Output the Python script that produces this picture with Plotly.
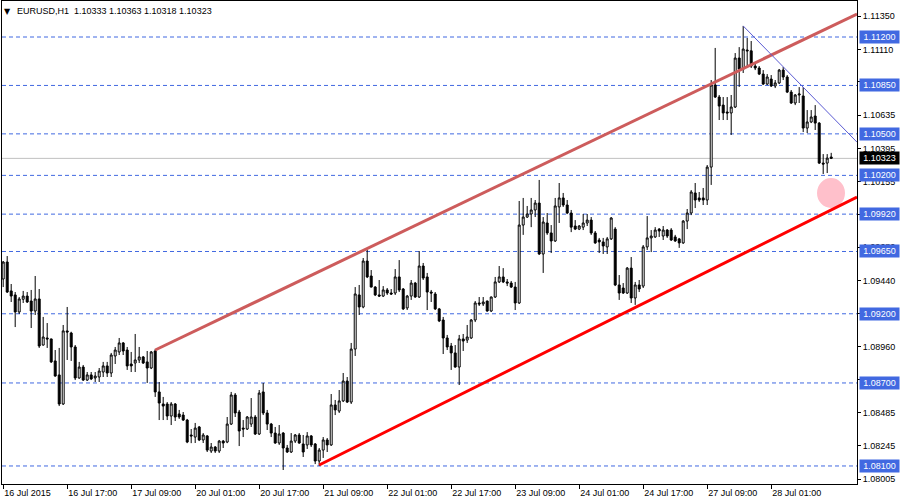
import pandas as pd
import plotly.graph_objects as go

symbol = "EURUSD,H1"

# hourly bars (weekend skipped)
times = [t for t in pd.date_range("2015-07-16 01:00", "2015-07-28 16:00", freq="h") if t.weekday() < 5]
bar_time = [t.strftime("%Y-%m-%d %H:%M") for t in times]

opens = [
    1.09451, 1.09574, 1.09365, 1.09336, 1.09213, 1.09305, 1.09328, 1.09292, 1.09220, 1.09307,
    1.08974, 1.09025, 1.09018, 1.08859, 1.08758, 1.08548, 1.09076, 1.09061, 1.08960, 1.08736,
    1.08815, 1.08721, 1.08758, 1.08736, 1.08743, 1.08779, 1.08823, 1.08772, 1.08895, 1.08924,
    1.08989, 1.08938, 1.08837, 1.08844, 1.08866, 1.08888, 1.08852, 1.08808, 1.08931, 1.08635,
    1.08548, 1.08548, 1.08461, 1.08548, 1.08476, 1.08468, 1.08432, 1.08324, 1.08309, 1.08382,
    1.08288, 1.08317, 1.08208, 1.08237, 1.08208, 1.08280, 1.08273, 1.08403, 1.08613, 1.08490,
    1.08374, 1.08367, 1.08403, 1.08454, 1.08331, 1.08635, 1.08483, 1.08403, 1.08338, 1.08266,
    1.08338, 1.08230, 1.08201, 1.08280, 1.08324, 1.08259, 1.08252, 1.08317, 1.08259, 1.08136,
    1.08215, 1.08288, 1.08252, 1.08541, 1.08497, 1.08570, 1.08714, 1.08562, 1.08945, 1.09336,
    1.09249, 1.09581, 1.09473, 1.09393, 1.09336, 1.09328, 1.09372, 1.09350, 1.09350, 1.09466,
    1.09379, 1.09242, 1.09328, 1.09422, 1.09321, 1.09545, 1.09466, 1.09357, 1.09343, 1.09235,
    1.09155, 1.09025, 1.08967, 1.08917, 1.08815, 1.09018, 1.09010, 1.09025, 1.09155, 1.09278,
    1.09271, 1.09292, 1.09220, 1.09321, 1.09430, 1.09466, 1.09430, 1.09422, 1.09393, 1.09278,
    1.09841, 1.09899, 1.09921, 1.09950, 1.10000, 1.09632, 1.09856, 1.09784, 1.09726, 1.09972,
    1.10037, 1.09986, 1.09928, 1.09834, 1.09812, 1.09826, 1.09856, 1.09877, 1.09784, 1.09733,
    1.09719, 1.09683, 1.09741, 1.09812, 1.09408, 1.09386, 1.09350, 1.09530, 1.09314, 1.09408,
    1.09400, 1.09683, 1.09748, 1.09755, 1.09812, 1.09762, 1.09805, 1.09805, 1.09755, 1.09741,
    1.09712, 1.09870, 1.09928, 1.10073, 1.10037, 1.10037, 1.10022, 1.10260, 1.10853, 1.10766,
    1.10708, 1.10658, 1.10651, 1.10694, 1.11048, 1.10968, 1.11106, 1.11100, 1.10990, 1.10976,
    1.10932, 1.10860, 1.10896, 1.10846, 1.10868, 1.10961, 1.10911, 1.10802, 1.10723, 1.10781,
    1.10774, 1.10542, 1.10586, 1.10629, 1.10578, 1.10289, 1.10289, 1.10333,
]
highs = [
    1.09581, 1.09617, 1.09415, 1.09357, 1.09321, 1.09365, 1.09357, 1.09372, 1.09473, 1.09379,
    1.09177, 1.09133, 1.09020, 1.08938, 1.08953, 1.09119, 1.09249, 1.09070, 1.08974, 1.08852,
    1.08830, 1.08779, 1.08779, 1.08779, 1.08808, 1.08852, 1.08852, 1.08917, 1.08960, 1.09025,
    1.08996, 1.08960, 1.08924, 1.09054, 1.08960, 1.08895, 1.08931, 1.08931, 1.08945, 1.08707,
    1.08599, 1.08562, 1.08562, 1.08555, 1.08505, 1.08490, 1.08440, 1.08367, 1.08411, 1.08389,
    1.08338, 1.08324, 1.08266, 1.08244, 1.08288, 1.08288, 1.08454, 1.08635, 1.08627, 1.08505,
    1.08432, 1.08461, 1.08591, 1.08468, 1.08649, 1.08700, 1.08505, 1.08411, 1.08382, 1.08396,
    1.08345, 1.08252, 1.08338, 1.08331, 1.08338, 1.08324, 1.08345, 1.08324, 1.08266, 1.08230,
    1.08309, 1.08302, 1.08620, 1.08577, 1.08649, 1.08772, 1.08743, 1.08989, 1.09393, 1.09408,
    1.09603, 1.09661, 1.09516, 1.09400, 1.09444, 1.09400, 1.09386, 1.09379, 1.09523, 1.09588,
    1.09386, 1.09336, 1.09444, 1.09430, 1.09653, 1.09567, 1.09495, 1.09372, 1.09357, 1.09242,
    1.09177, 1.09047, 1.08989, 1.08974, 1.09047, 1.09054, 1.09119, 1.09162, 1.09292, 1.09321,
    1.09321, 1.09295, 1.09325, 1.09466, 1.09545, 1.09530, 1.09451, 1.09437, 1.09430, 1.10015,
    1.10037, 1.09979, 1.10037, 1.10022, 1.10167, 1.09899, 1.09928, 1.09841, 1.10037, 1.10145,
    1.10073, 1.10022, 1.09950, 1.09877, 1.09841, 1.09921, 1.09921, 1.09899, 1.09798, 1.09748,
    1.09748, 1.09755, 1.09899, 1.09826, 1.09480, 1.09422, 1.09538, 1.09610, 1.09430, 1.09444,
    1.09697, 1.09906, 1.09805, 1.09826, 1.09819, 1.09834, 1.09812, 1.09819, 1.09770, 1.09748,
    1.09877, 1.09957, 1.10094, 1.10145, 1.10080, 1.10109, 1.10275, 1.10889, 1.11121, 1.10781,
    1.10766, 1.10766, 1.10781, 1.11084, 1.11127, 1.11280, 1.11193, 1.11171, 1.11019, 1.10990,
    1.10961, 1.10932, 1.10925, 1.10889, 1.10969, 1.10983, 1.10925, 1.10817, 1.10788, 1.10838,
    1.10838, 1.10672, 1.10672, 1.10708, 1.10585, 1.10354, 1.10354, 1.10363,
]
lows = [
    1.09393, 1.09350, 1.09285, 1.09104, 1.09198, 1.09278, 1.09278, 1.09097, 1.09191, 1.08953,
    1.08970, 1.08953, 1.08844, 1.08745, 1.08533, 1.08541, 1.08866, 1.08859, 1.08721, 1.08730,
    1.08714, 1.08714, 1.08721, 1.08707, 1.08707, 1.08743, 1.08743, 1.08743, 1.08837, 1.08902,
    1.08902, 1.08794, 1.08779, 1.08779, 1.08844, 1.08837, 1.08700, 1.08800, 1.08599, 1.08432,
    1.08432, 1.08432, 1.08396, 1.08425, 1.08440, 1.08425, 1.08265, 1.08265, 1.08266, 1.08280,
    1.08266, 1.08201, 1.08194, 1.08194, 1.08194, 1.08230, 1.08265, 1.08396, 1.08454, 1.08244,
    1.08309, 1.08360, 1.08382, 1.08324, 1.08324, 1.08468, 1.08360, 1.08309, 1.08260, 1.08252,
    1.08071, 1.08194, 1.08194, 1.08266, 1.08260, 1.08165, 1.08223, 1.08237, 1.08114, 1.08100,
    1.08158, 1.08201, 1.08245, 1.08468, 1.08483, 1.08562, 1.08555, 1.08548, 1.08895, 1.09191,
    1.09240, 1.09458, 1.09390, 1.09328, 1.09321, 1.09321, 1.09336, 1.09336, 1.09336, 1.09357,
    1.09227, 1.09227, 1.09300, 1.09315, 1.09314, 1.09444, 1.09227, 1.09285, 1.09227, 1.09140,
    1.08909, 1.08938, 1.08794, 1.08810, 1.08685, 1.08931, 1.08989, 1.09018, 1.09140, 1.09256,
    1.09256, 1.09215, 1.09213, 1.09314, 1.09422, 1.09422, 1.09400, 1.09386, 1.09227, 1.09271,
    1.09770, 1.09892, 1.09826, 1.09899, 1.09625, 1.09495, 1.09770, 1.09639, 1.09719, 1.09856,
    1.09972, 1.09920, 1.09790, 1.09805, 1.09805, 1.09805, 1.09834, 1.09770, 1.09705, 1.09639,
    1.09632, 1.09632, 1.09733, 1.09400, 1.09300, 1.09343, 1.09343, 1.09278, 1.09264, 1.09357,
    1.09386, 1.09661, 1.09646, 1.09748, 1.09755, 1.09733, 1.09748, 1.09726, 1.09719, 1.09676,
    1.09705, 1.09812, 1.09913, 1.09964, 1.10008, 1.09986, 1.09986, 1.10131, 1.10759, 1.10600,
    1.10600, 1.10600, 1.10492, 1.10687, 1.10839, 1.10940, 1.10976, 1.10976, 1.10961, 1.10925,
    1.10853, 1.10853, 1.10839, 1.10831, 1.10860, 1.10889, 1.10795, 1.10716, 1.10708, 1.10723,
    1.10513, 1.10506, 1.10578, 1.10528, 1.10282, 1.10210, 1.10217, 1.10318,
]
closes = [
    1.09574, 1.09357, 1.09328, 1.09213, 1.09307, 1.09328, 1.09285, 1.09220, 1.09307, 1.08967,
    1.09032, 1.09018, 1.08852, 1.08750, 1.08548, 1.09076, 1.09068, 1.08960, 1.08736, 1.08815,
    1.08721, 1.08758, 1.08729, 1.08750, 1.08786, 1.08823, 1.08772, 1.08902, 1.08938, 1.08989,
    1.08931, 1.08823, 1.08823, 1.08866, 1.08888, 1.08844, 1.08808, 1.08924, 1.08635, 1.08555,
    1.08533, 1.08461, 1.08548, 1.08454, 1.08454, 1.08432, 1.08273, 1.08317, 1.08374, 1.08288,
    1.08324, 1.08215, 1.08237, 1.08208, 1.08280, 1.08266, 1.08403, 1.08613, 1.08483, 1.08353,
    1.08367, 1.08454, 1.08454, 1.08331, 1.08627, 1.08483, 1.08403, 1.08338, 1.08266, 1.08331,
    1.08230, 1.08201, 1.08280, 1.08324, 1.08266, 1.08201, 1.08317, 1.08252, 1.08136, 1.08215,
    1.08288, 1.08252, 1.08541, 1.08505, 1.08570, 1.08714, 1.08562, 1.08945, 1.09343, 1.09249,
    1.09581, 1.09466, 1.09393, 1.09336, 1.09328, 1.09372, 1.09350, 1.09343, 1.09466, 1.09372,
    1.09235, 1.09328, 1.09422, 1.09321, 1.09545, 1.09458, 1.09357, 1.09350, 1.09235, 1.09148,
    1.09025, 1.08960, 1.08917, 1.08815, 1.09018, 1.09003, 1.09032, 1.09155, 1.09278, 1.09271,
    1.09285, 1.09220, 1.09321, 1.09430, 1.09466, 1.09430, 1.09422, 1.09393, 1.09278, 1.09841,
    1.09899, 1.09921, 1.09950, 1.10000, 1.09632, 1.09863, 1.09784, 1.09726, 1.09979, 1.10037,
    1.09986, 1.09928, 1.09826, 1.09812, 1.09834, 1.09856, 1.09877, 1.09784, 1.09712, 1.09719,
    1.09690, 1.09741, 1.09892, 1.09408, 1.09350, 1.09350, 1.09530, 1.09314, 1.09408, 1.09379,
    1.09683, 1.09748, 1.09762, 1.09805, 1.09798, 1.09805, 1.09762, 1.09733, 1.09726, 1.09712,
    1.09870, 1.09928, 1.10080, 1.10022, 1.10022, 1.10022, 1.10260, 1.10853, 1.10766, 1.10701,
    1.10651, 1.10651, 1.10694, 1.11048, 1.10968, 1.11113, 1.11100, 1.10990, 1.10976, 1.10932,
    1.10860, 1.10911, 1.10846, 1.10868, 1.10961, 1.10911, 1.10802, 1.10723, 1.10781, 1.10788,
    1.10542, 1.10586, 1.10622, 1.10578, 1.10289, 1.10282, 1.10325, 1.10323,
]

# horizontal levels drawn on the chart
levels = [1.11200, 1.10850, 1.10500, 1.10200, 1.09920, 1.09650, 1.09200, 1.08700, 1.08100]

# price-scale ticks
price_ticks = [1.11350, 1.11110, 1.10875, 1.10635, 1.10395, 1.10155, 1.09920, 1.09680,
               1.09440, 1.09200, 1.08960, 1.08725, 1.08485, 1.08245, 1.08005]

# time-scale labels (every 16 bars)
time_labels = ["16 Jul 2015", "16 Jul 17:00", "17 Jul 09:00", "20 Jul 01:00", "20 Jul 17:00",
               "21 Jul 09:00", "22 Jul 01:00", "22 Jul 17:00", "23 Jul 09:00", "24 Jul 01:00",
               "24 Jul 17:00", "27 Jul 09:00", "28 Jul 01:00"]
time_label_bars = [0, 16, 32, 48, 64, 80, 96, 112, 128, 144, 160, 176, 192]

# trend lines: (bar, price) anchor pairs
upper_channel = ([38, 213.45], [1.08938, 1.11366])
lower_channel = ([79, 213.45], [1.08107, 1.10044])
down_line = ([185, 213.45], [1.11280, 1.10440])

# highlighted zone (bar center, price center, half-width in bars, half-height in price)
zone = (206.95, 1.10073, 3.5, 0.00108)

x_range = [-0.3, 213.45]
y_range = [1.079698, 1.114602]

FONT = "Liberation Sans, Arial, sans-serif"
BLUE = "#4169E1"

fig = go.Figure()
fig.add_trace(go.Candlestick(
    x=bar_time, open=opens, high=highs, low=lows, close=closes,
    increasing=dict(line=dict(color="black", width=1), fillcolor="white"),
    decreasing=dict(line=dict(color="black", width=1), fillcolor="black"),
    whiskerwidth=0, showlegend=False, hoverinfo="skip",
))

shapes = []
for lv in levels:
    shapes.append(dict(type="line", xref="paper", x0=0, x1=1, yref="y", y0=lv, y1=lv,
                       line=dict(color=BLUE, width=1, dash="4px,3px"), layer="below"))
shapes.append(dict(type="line", xref="paper", x0=0, x1=1, yref="y", y0=closes[-1], y1=closes[-1],
                   line=dict(color="#C0C0C0", width=1), layer="below"))
zx, zy, zw, zh = zone
shapes.append(dict(type="circle", xref="x", yref="y", x0=zx - zw, x1=zx + zw, y0=zy - zh, y1=zy + zh,
                   fillcolor="#FFC0CB", line=dict(width=0), layer="above"))
for (xs, ys), col, w in [(upper_channel, "#CD5C5C", 3), (lower_channel, "#FF0000", 3),
                         (down_line, "#5A5AD2", 1)]:
    shapes.append(dict(type="line", xref="x", yref="y", x0=xs[0], x1=xs[1], y0=ys[0], y1=ys[1],
                       line=dict(color=col, width=w), layer="above"))

annotations = []
for lv in levels:
    annotations.append(dict(xref="paper", x=1, xanchor="left", xshift=2, yref="y", y=lv,
                            text=f"{lv:.5f}", showarrow=False, bgcolor=BLUE, width=37,
                            font=dict(family=FONT, size=9, color="white"), borderpad=1))
annotations.append(dict(xref="paper", x=1, xanchor="left", xshift=2, yref="y", y=closes[-1],
                        text=f"{closes[-1]:.5f}", showarrow=False, bgcolor="black", width=37,
                        font=dict(family=FONT, size=9, color="white"), borderpad=1))
annotations.append(dict(xref="paper", x=0, xanchor="left", xshift=0, yref="paper", y=1,
                        yanchor="top", yshift=-4, text="▼", showarrow=False,
                        font=dict(family="DejaVu Sans", size=8, color="black")))
annotations.append(dict(xref="paper", x=0, xanchor="left", xshift=13, yref="paper", y=1,
                        yanchor="top", yshift=-3,
                        text=f"{symbol}  {opens[-1]:.5f} {highs[-1]:.5f} {lows[-1]:.5f} {closes[-1]:.5f}",
                        showarrow=False, font=dict(family=FONT, size=9, color="black")))

fig.update_layout(
    width=900, height=500, margin=dict(l=2, r=43, t=1, b=16),
    paper_bgcolor="white", plot_bgcolor="white",
    shapes=shapes, annotations=annotations, showlegend=False,
    xaxis=dict(type="category", range=x_range, rangeslider=dict(visible=False),
               showline=True, mirror=True, linecolor="black", linewidth=1,
               ticks="outside", ticklen=4, tickcolor="black",
               tickvals=[bar_time[i] for i in time_label_bars], ticktext=time_labels,
               ticklabelposition="outside right",
               tickfont=dict(family=FONT, size=9, color="black"),
               showgrid=False, zeroline=False, fixedrange=True),
    yaxis=dict(side="right", range=y_range, showline=True, mirror=True, linecolor="black",
               linewidth=1, ticks="outside", ticklen=3, tickcolor="black",
               tickvals=price_ticks, ticktext=[f"{v:.5f}" for v in price_ticks],
               tickfont=dict(family=FONT, size=9, color="black"),
               showgrid=False, zeroline=False, fixedrange=True),
)

fig.write_html("out.html", config={"displayModeBar": False, "staticPlot": True},
               post_script="document.body.style.margin='0';document.body.style.padding='0';")
